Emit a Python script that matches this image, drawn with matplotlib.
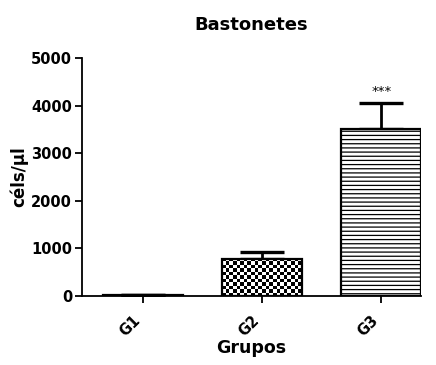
import numpy as np
import matplotlib
matplotlib.use("Agg")
import matplotlib.pyplot as plt

groups = ["G1", "G2", "G3"]
means = [12, 780, 3500]
sem = [8, 150, 550]
stars = ["", "", "***"]

plt.rcParams["font.family"] = ["DejaVu Sans"]
plt.rcParams["hatch.linewidth"] = 0.9

fig = plt.figure(figsize=(4.36, 3.65), dpi=100)
ax = fig.add_axes([0.188, 0.189, 0.778, 0.652])

x = np.arange(len(groups))
w = 0.67
bars = ax.bar(x, means, width=w, color="white", edgecolor="black",
              linewidth=1.6, zorder=3)
bars[2].set_hatch("----")
bars[1].set_facecolor("none")

# checkerboard fill for G2, clipped to the bar
b = bars[1]
nx, ny = 22, 11
chk = (np.add.outer(np.arange(ny), np.arange(nx)) % 2).astype(float)
im = ax.imshow(chk, cmap="gray", interpolation="nearest", aspect="auto",
               extent=[b.get_x(), b.get_x() + b.get_width(), 0, b.get_height()],
               zorder=2.5)
im.set_clip_path(b)

ax.errorbar(x, means, yerr=[np.zeros(len(sem)), sem], fmt="none",
            ecolor="black", elinewidth=2.0, capsize=16, capthick=2.4, zorder=2)
for xi, m, s, st in zip(x, means, sem, stars):
    if st:
        ax.text(xi, m + s + 110, st, ha="center", va="bottom", fontsize=9.5)

ax.set_xlim(-0.51, 2.335)
ax.set_ylim(0, 5000)
ax.set_yticks(range(0, 5001, 1000))
ax.set_xticks(x)
ax.set_xticklabels(groups, rotation=45, ha="right", fontsize=10.5,
                   fontweight="bold")
for lab in ax.get_yticklabels():
    lab.set_fontweight("bold")
    lab.set_fontsize(10.5)
ax.tick_params(direction="out", length=5, width=1.3)
ax.tick_params(axis="x", pad=7)
ax.tick_params(axis="y", pad=2)
ax.spines["top"].set_visible(False)
ax.spines["right"].set_visible(False)
ax.spines["left"].set_linewidth(1.3)
ax.spines["bottom"].set_linewidth(1.3)
ax.set_ylabel("céls/µl", fontsize=12, fontweight="bold", labelpad=2)
ax.set_xlabel("Grupos", fontsize=12.5, fontweight="bold", labelpad=0)
ax.set_title("Bastonetes", fontsize=13, fontweight="bold", pad=20)

fig.savefig("out.png", dpi=100)
